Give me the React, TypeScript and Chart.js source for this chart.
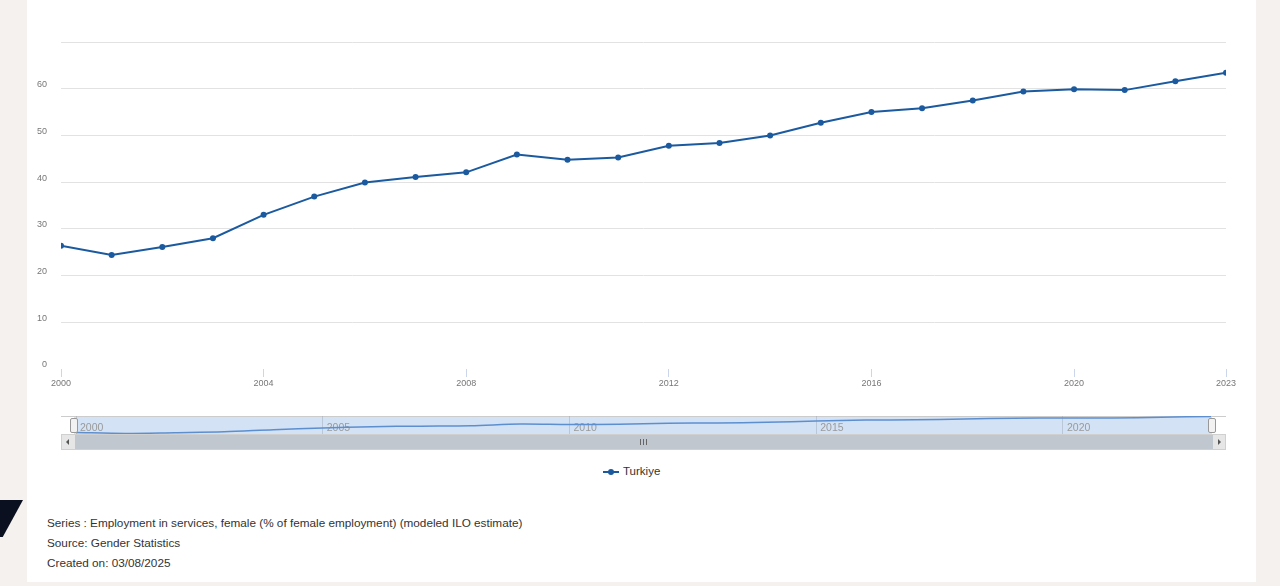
import React, { useEffect, useRef } from 'react';
import { Chart, registerables } from 'chart.js';

Chart.register(...registerables);

const years = [2000, 2001, 2002, 2003, 2004, 2005, 2006, 2007, 2008, 2009, 2010, 2011, 2012, 2013, 2014, 2015, 2016, 2017, 2018, 2019, 2020, 2021, 2022, 2023];
const femaleServicesShare = [26.4, 24.4, 26.1, 28.0, 33.0, 36.9, 39.9, 41.1, 42.1, 45.9, 44.8, 45.3, 47.8, 48.4, 50.0, 52.7, 55.0, 55.8, 57.5, 59.4, 59.9, 59.7, 61.6, 63.4];
const xTickYears = [2000, 2004, 2008, 2012, 2016, 2020, 2023];
const yTickValues = [0, 10, 20, 30, 40, 50, 60, 70];
const navigatorTickYears = [2000, 2005, 2010, 2015, 2020];
const seriesName = 'Turkiye';
const footerLines = [
  'Series : Employment in services, female (% of female employment) (modeled ILO estimate)',
  'Source: Gender Statistics',
  'Created on: 03/08/2025',
];

const FONT = '"Liberation Sans", Arial, Helvetica, sans-serif';
const BLUE = '#1b5a9f';

export default function App() {
  const mainRef = useRef<HTMLCanvasElement | null>(null);
  const navRef = useRef<HTMLCanvasElement | null>(null);

  useEffect(() => {
    const points = years.map((y, i) => ({ x: y, y: femaleServicesShare[i] }));
    const main = new Chart(mainRef.current as HTMLCanvasElement, {
      type: 'line',
      data: {
        datasets: [
          {
            label: seriesName,
            data: points,
            borderColor: BLUE,
            backgroundColor: BLUE,
            borderWidth: 2,
            pointRadius: 3,
            pointHoverRadius: 3,
            pointBorderWidth: 0,
            tension: 0,
          },
        ],
      },
      options: {
        responsive: false,
        animation: false,
        devicePixelRatio: 1,
        events: [],
        layout: { padding: { top: 42, right: 30, left: 0, bottom: 0 } },
        plugins: { legend: { display: false }, tooltip: { enabled: false } },
        scales: {
          x: {
            type: 'linear',
            min: 2000,
            max: 2023,
            afterBuildTicks: (s: any) => {
              s.ticks = xTickYears.map((v) => ({ value: v }));
            },
            afterFit: (s: any) => {
              s.height = 31;
            },
            border: { display: false },
            grid: { drawOnChartArea: false, drawTicks: true, tickLength: 8, color: '#ccd6eb', lineWidth: 1 },
            ticks: {
              padding: 1,
              color: '#777',
              font: { family: FONT, size: 9 },
              maxRotation: 0,
              autoSkip: false,
              callback: (v: any) => String(v),
            },
          },
          y: {
            min: 0,
            max: 70,
            afterBuildTicks: (s: any) => {
              s.ticks = yTickValues.map((v) => ({ value: v }));
            },
            afterFit: (s: any) => {
              s.width = 34;
            },
            border: { display: false },
            grid: {
              drawTicks: false,
              lineWidth: 1,
              color: (ctx: any) => (ctx.tick && ctx.tick.value === 0 ? 'rgba(0,0,0,0)' : '#e2e2e2'),
            },
            ticks: {
              padding: 14,
              labelOffset: -4,
              color: '#777',
              font: { family: FONT, size: 9 },
              callback: (v: any) => (v === 70 ? '' : String(v)),
            },
          },
        },
      },
    } as any);

    const nav = new Chart(navRef.current as HTMLCanvasElement, {
      type: 'line',
      data: {
        datasets: [
          {
            label: seriesName,
            data: points,
            borderColor: '#5d8fcf',
            borderWidth: 1.5,
            pointRadius: 0,
            tension: 0.3,
            fill: false,
            clip: false,
          },
        ],
      },
      options: {
        responsive: false,
        animation: false,
        devicePixelRatio: 1,
        events: [],
        layout: { padding: 0 },
        plugins: { legend: { display: false }, tooltip: { enabled: false } },
        scales: {
          x: {
            type: 'linear',
            min: 2000,
            max: 2023,
            afterBuildTicks: (s: any) => {
              s.ticks = navigatorTickYears.map((v) => ({ value: v }));
            },
            afterFit: (s: any) => {
              s.height = 0;
            },
            border: { display: false },
            grid: { drawOnChartArea: true, drawTicks: false, color: 'rgba(140,150,165,0.35)', lineWidth: 1 },
            ticks: {
              mirror: true,
              padding: 0,
              align: 'start',
              labelOffset: 4,
              color: '#9a9a9a',
              font: { family: FONT, size: 10.5 },
              maxRotation: 0,
              autoSkip: false,
              callback: (v: any) => String(v),
            },
          },
          y: { display: false, min: 23, max: 64.5 },
        },
      },
    } as any);

    return () => {
      main.destroy();
      nav.destroy();
    };
  }, []);

  const abs = (s: React.CSSProperties): React.CSSProperties => ({ position: 'absolute', ...s });

  return (
    <div style={abs({ left: 0, top: 0, width: 1280, height: 586, background: '#f4f1ee', overflow: 'hidden', fontFamily: FONT })}>
      <div style={abs({ left: 0, top: 500, width: 23, height: 37, background: '#0b1020', clipPath: 'polygon(0 0, 100% 0, 12% 100%, 0 100%)' })} />
      <div style={abs({ left: 27, top: 0, width: 1229, height: 582, background: '#ffffff' })} />
      <canvas ref={mainRef} width={1229} height={400} style={abs({ left: 27, top: 0, width: 1229, height: 400 })} />

      {/* navigator */}
      <div style={abs({ left: 61, top: 416, width: 1165, height: 1, background: '#cccccc' })} />
      <div style={abs({ left: 74, top: 417, width: 1138, height: 17, background: '#d3e2f4' })} />
      <canvas ref={navRef} width={1135} height={18} style={abs({ left: 76, top: 416, width: 1135, height: 18 })} />
      <div style={abs({ left: 70, top: 418, width: 6, height: 13, background: '#f2f2f2', border: '1px solid #999', borderRadius: 2 })} />
      <div style={abs({ left: 1208, top: 418, width: 6, height: 13, background: '#f2f2f2', border: '1px solid #999', borderRadius: 2 })} />

      {/* scrollbar */}
      <div style={abs({ left: 61, top: 434, width: 1165, height: 16, background: '#e6e6e6', boxSizing: 'border-box', border: '1px solid #d0d0d0' })} />
      <div style={abs({ left: 75, top: 435, width: 1138, height: 14, background: '#c1c7cf' })} />
      <div style={abs({ left: 66, top: 439, width: 0, height: 0, borderTop: '3px solid transparent', borderBottom: '3px solid transparent', borderRight: '3px solid #555' })} />
      <div style={abs({ left: 1218, top: 439, width: 0, height: 0, borderTop: '3px solid transparent', borderBottom: '3px solid transparent', borderLeft: '3px solid #555' })} />
      <div style={abs({ left: 640, top: 439, width: 1, height: 6, background: '#666' })} />
      <div style={abs({ left: 643, top: 439, width: 1, height: 6, background: '#666' })} />
      <div style={abs({ left: 646, top: 439, width: 1, height: 6, background: '#666' })} />

      {/* legend */}
      <div style={abs({ left: 603, top: 471, width: 16, height: 2, background: BLUE })} />
      <div style={abs({ left: 608, top: 469, width: 6, height: 6, borderRadius: 3, background: BLUE })} />
      <div style={abs({ left: 623, top: 464, fontSize: 11.5, lineHeight: '14px', color: '#333' })}>{seriesName}</div>

      {/* footer */}
      {footerLines.map((t, i) => (
        <div key={i} style={abs({ left: 47, top: 516 + i * 20, fontSize: 11.75, lineHeight: '14px', color: '#333', whiteSpace: 'nowrap' })}>
          {t}
        </div>
      ))}
    </div>
  );
}
